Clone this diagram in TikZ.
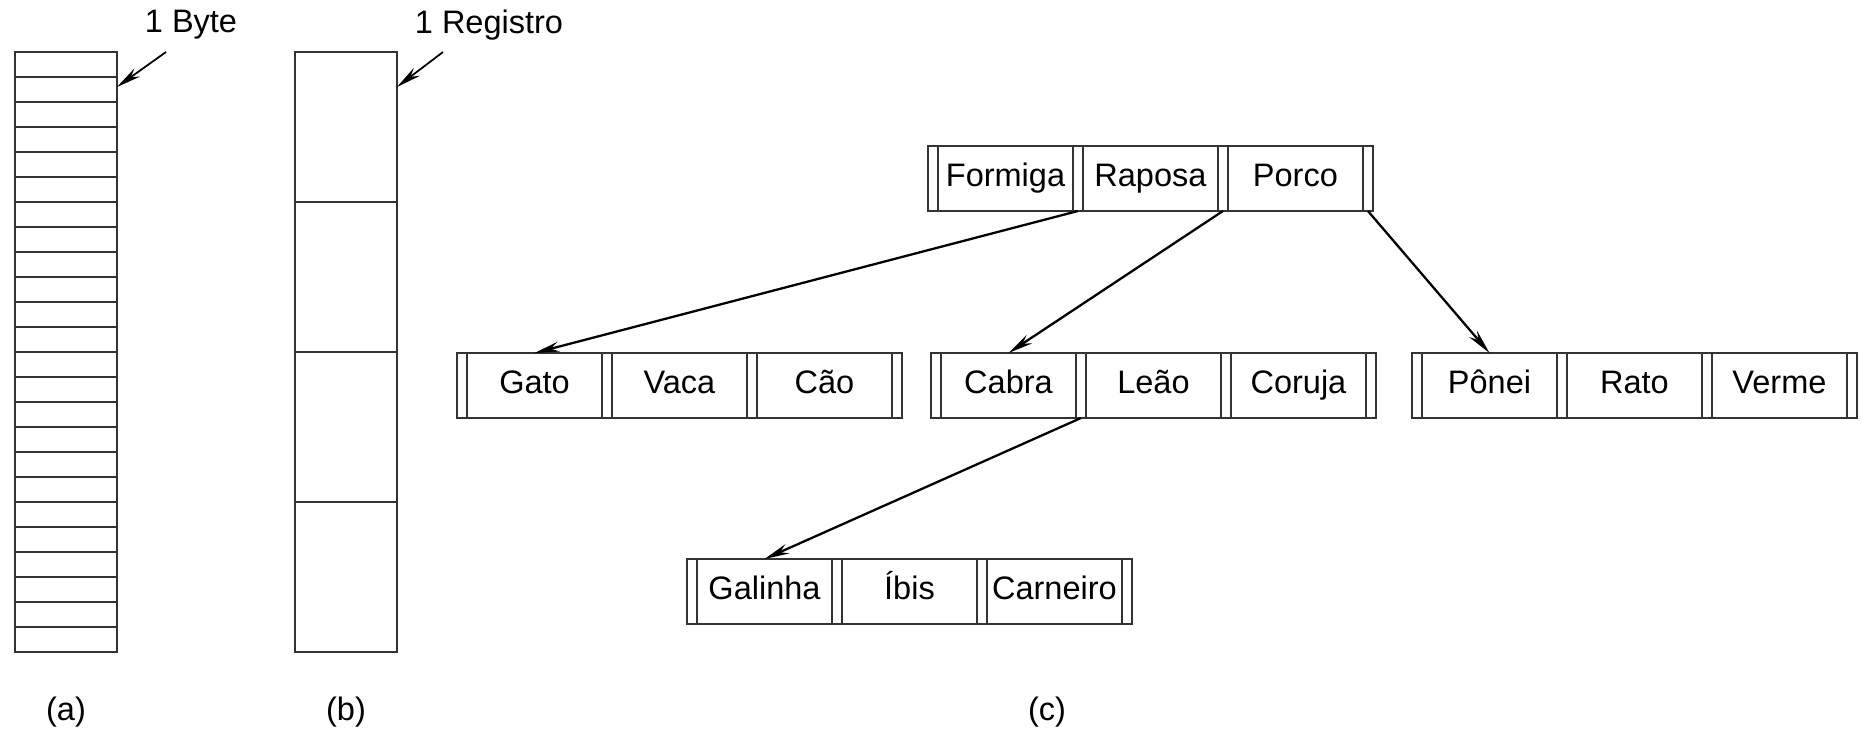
\documentclass[tikz,border=0pt]{standalone}
\usepackage{fontspec}
\setmainfont{Liberation Sans}
\usetikzlibrary{positioning,arrows.meta}

\tikzset{
  keycell/.style={draw=black!80, line width=1.6pt, minimum width=2.7cm, minimum height=1.3cm, inner sep=0pt, outer sep=0pt, text height=13.3pt, text depth=3.9pt},
  ptrcell/.style={draw=black!80, line width=1.6pt, minimum width=0.2cm, minimum height=1.3cm, inner sep=0pt, outer sep=0pt},
  column/.style={draw=black!80, line width=1.4pt, minimum width=2.04cm, minimum height=12cm, inner sep=0pt, outer sep=0pt, anchor=north west},
  link/.style={-{Stealth[length=0.5cm,width=0.2cm]}, line width=1.3pt},
}

% one node of the tree: name, top left corner, three keys
\newcommand{\btreenode}[5]{%
  \node[ptrcell, anchor=north west] (#1-p0) at (#2) {};
  \node[keycell, right=0pt of #1-p0] (#1-k1) {#3};
  \node[ptrcell, right=0pt of #1-k1] (#1-p1) {};
  \node[keycell, right=0pt of #1-p1] (#1-k2) {#4};
  \node[ptrcell, right=0pt of #1-k2] (#1-p2) {};
  \node[keycell, right=0pt of #1-p2] (#1-k3) {#5};
  \node[ptrcell, right=0pt of #1-k3] (#1-p3) {};
}

\begin{document}
\begin{tikzpicture}[x=0.02cm, y=-0.02cm, font=\fontsize{18.5}{22}\selectfont]
  \useasboundingbox (0,0) rectangle (1862,731);

  % (a) bytes and (b) records
  \node[column] (bytes) at (15,52) {};
  \foreach \i in {1,...,23}
    \draw[line width=1.4pt, black!80] ([yshift=-0.5*\i cm]bytes.north west) -- ([yshift=-0.5*\i cm]bytes.north east);
  \node[column] (recs) at (295,52) {};
  \foreach \i in {1,2,3}
    \draw[line width=1.2pt, black!80] ([yshift=-3*\i cm]recs.north west) -- ([yshift=-3*\i cm]recs.north east);

  \node (byte) at (191,25) {1 Byte};
  \coordinate (bytetail) at (166,52);
  \draw[link, line width=1pt] (bytetail) -- ([yshift=-0.7cm]bytes.north east);
  \node (reg) at (489,25) {1 Registro};
  \coordinate (regtail) at (443,52);
  \draw[link, line width=1pt] (regtail) -- ([yshift=-0.7cm]recs.north east);

  % (c) tree
  \btreenode{root}{928,146}{Formiga}{Raposa}{Porco}
  \btreenode{left}{457,353}{Gato}{Vaca}{Cão}
  \btreenode{mid}{931,353}{Cabra}{Leão}{Coruja}
  \btreenode{right}{1412,353}{Pônei}{Rato}{Verme}
  \btreenode{low}{687,559}{Galinha}{Íbis}{Carneiro}

  \draw[link] (root-p1.south) -- (left-k1.north);
  \draw[link] (root-p2.south) -- (mid-k1.north);
  \draw[link] (root-p3.south) -- (right-k1.north);
  \draw[link] (mid-p1.south) -- (low-k1.north);

  \node (capa) at (66,712) {(a)};
  \node (capb) at (346,712) {(b)};
  \node (capc) at (1047,712) {(c)};
\end{tikzpicture}
\end{document}
